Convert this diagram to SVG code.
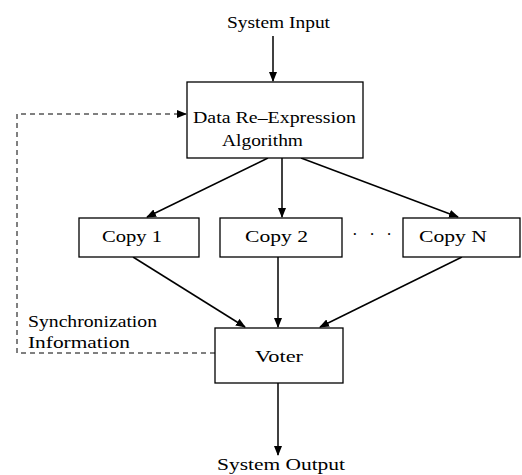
<svg xmlns="http://www.w3.org/2000/svg" width="522" height="475" viewBox="0 0 522 475">
<style>
.box{fill:#fff;stroke:#000;stroke-width:1.3}
.t{font-family:"Liberation Serif","Times New Roman",serif;font-size:17px;fill:#000}
.c{stroke:#000;stroke-width:1.5;fill:none}
.d{stroke:#000;stroke-width:1;fill:none;stroke-dasharray:5,4}
</style>
<defs>
<marker id="ah" markerWidth="10" markerHeight="8" refX="9" refY="4" orient="auto" markerUnits="userSpaceOnUse">
<path d="M0,0 L10,4 L0,8 Z" fill="#000"/>
</marker>
</defs>
<rect width="522" height="475" fill="#fff"/>
<g id="connectors">
<line class="c" x1="273" y1="36" x2="273" y2="81" marker-end="url(#ah)"/>
<line class="c" x1="268" y1="158" x2="147" y2="217" marker-end="url(#ah)"/>
<line class="c" x1="282" y1="158" x2="282" y2="217" marker-end="url(#ah)"/>
<line class="c" x1="301" y1="158" x2="458" y2="217" marker-end="url(#ah)"/>
<line class="c" x1="133" y1="257" x2="245" y2="327" marker-end="url(#ah)"/>
<line class="c" x1="278" y1="257" x2="278" y2="327" marker-end="url(#ah)"/>
<line class="c" x1="462" y1="257" x2="320" y2="327" marker-end="url(#ah)"/>
<line class="c" x1="278" y1="383" x2="278" y2="455" marker-end="url(#ah)"/>
<polyline class="d" points="215,353 17,353 17,114 186,114" marker-end="url(#ah)"/>
</g>
<text class="t" x="227" y="28" textLength="103" lengthAdjust="spacingAndGlyphs">System Input</text>
<g id="dre">
<rect class="box" x="187" y="82" width="176" height="76"/>
<text class="t" x="193" y="123" textLength="163" lengthAdjust="spacingAndGlyphs">Data Re–Expression</text>
<text class="t" x="222" y="146" textLength="81" lengthAdjust="spacingAndGlyphs">Algorithm</text>
</g>
<g id="copy1">
<rect class="box" x="79" y="218" width="120" height="39"/>
<text class="t" x="102" y="242" textLength="60" lengthAdjust="spacingAndGlyphs">Copy 1</text>
</g>
<g id="copy2">
<rect class="box" x="220" y="218" width="122" height="39"/>
<text class="t" x="245" y="242" textLength="63" lengthAdjust="spacingAndGlyphs">Copy 2</text>
</g>
<text class="t" x="352" y="240" textLength="40" lengthAdjust="spacing">· · ·</text>
<g id="copyN">
<rect class="box" x="403" y="218" width="117" height="39"/>
<text class="t" x="419" y="242" textLength="68" lengthAdjust="spacingAndGlyphs">Copy N</text>
</g>
<g id="voter">
<rect class="box" x="215" y="328" width="128" height="55"/>
<text class="t" x="255" y="362" textLength="48" lengthAdjust="spacingAndGlyphs">Voter</text>
</g>
<text class="t" x="28" y="327" textLength="129" lengthAdjust="spacingAndGlyphs">Synchronization</text>
<text class="t" x="28" y="348" textLength="102" lengthAdjust="spacingAndGlyphs">Information</text>
<text class="t" x="217" y="470" textLength="128" lengthAdjust="spacingAndGlyphs">System Output</text>
</svg>
